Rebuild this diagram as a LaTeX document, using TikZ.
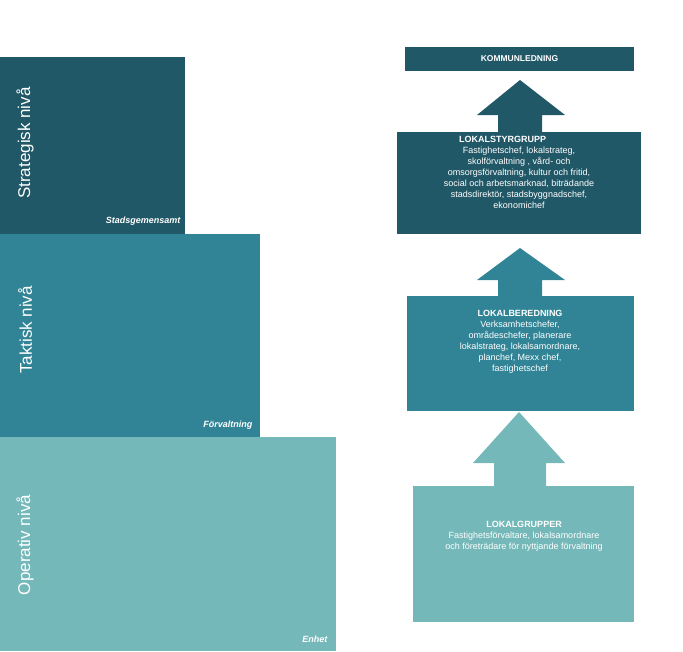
\documentclass[tikz,border=0pt]{standalone}
\usepackage{fontspec}
\setmainfont{Liberation Sans}
\usetikzlibrary{positioning}
\definecolor{darkteal}{RGB}{33,88,103}
\definecolor{midteal}{RGB}{49,132,150}
\definecolor{lightteal}{RGB}{117,184,185}
\begin{document}
\begin{tikzpicture}[x=1pt,y=-1pt,
    levelname/.style={rotate=90, text=white, font=\fontsize{17}{17}\selectfont},
    unit/.style={anchor=south east, text=white, font=\fontsize{9}{9}\selectfont\bfseries\itshape},
    box/.style={inner sep=2pt, text=white, align=center, font=\fontsize{9}{11}\selectfont}
    ]
\useasboundingbox (0,0) rectangle (683,651);
% left levels
\fill[darkteal] (0,57) rectangle (185,234);
\fill[midteal] (0,234) rectangle (260,437);
\fill[lightteal] (0,437) rectangle (336,651);
\node[levelname] (strat) at (25,143) {Strategisk nivå};
\node[levelname] (takt) at (25,330) {Taktisk nivå};
\node[levelname] (oper) at (25,545) {Operativ nivå};
\node[unit] (stads) at (184,229) {Stadsgemensamt};
\node[unit] (forv) at (256,433) {Förvaltning};
\node[unit] (enhet) at (331,646) {Enhet};
% arrows
\fill[darkteal] (498,132) -- (498,115) -- (477,115) -- (520,80) -- (565,115) -- (542,115) -- (542,132) -- cycle;
\fill[midteal] (498,296) -- (498,280) -- (477,280) -- (520,248) -- (565,280) -- (542,280) -- (542,296) -- cycle;
\fill[lightteal] (494,486) -- (494,463) -- (473,463) -- (519,412) -- (565,463) -- (546,463) -- (546,486) -- cycle;
% right boxes
\fill[darkteal] (405,47) rectangle (634,71);
\node[box, font=\fontsize{8.5}{10}\selectfont\bfseries] (kommun) at (519.5,59) {KOMMUNLEDNING};
\fill[darkteal] (397,132) rectangle (641,234);
\node[box, anchor=north] (styr) at (519,134) {\makebox[170pt][l]{\hspace{25pt}\bfseries LOKALSTYRGRUPP}\\
Fastighetschef, lokalstrateg,\\skolförvaltning , vård- och\\omsorgsförvaltning, kultur och fritid,\\social och arbetsmarknad, biträdande\\stadsdirektör, stadsbyggnadschef,\\ekonomichef};
\fill[midteal] (407,296) rectangle (634,411);
\node[box, anchor=north] (bered) at (520,308) {\bfseries LOKALBEREDNING\\Verksamhetschefer,\\områdeschefer, planerare\\lokalstrateg, lokalsamordnare,\\planchef, Mexx  chef,\\fastighetschef};
\fill[lightteal] (413,486) rectangle (634,622);
\node[box, anchor=north] (grupp) at (524,519) {\bfseries LOKALGRUPPER\\Fastighetsförvaltare, lokalsamordnare\\och företrädare för nyttjande förvaltning};
\end{tikzpicture}
\end{document}
